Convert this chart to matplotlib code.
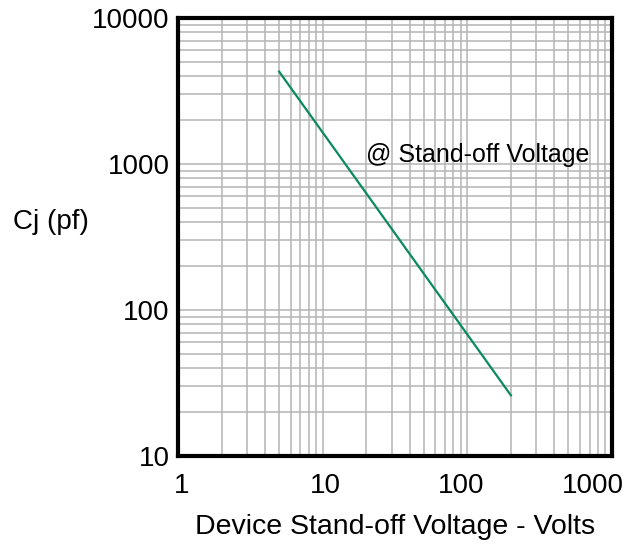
import matplotlib.pyplot as plt
import matplotlib.transforms as mtransforms
from matplotlib.ticker import LogLocator, FixedLocator, NullFormatter

plt.rcParams['font.family'] = ['Liberation Sans', 'DejaVu Sans']

# line endpoints (volts, pF)
voltage = [5, 200]
capacitance = [4300, 26]

x_ticks = [1, 10, 100, 1000]
x_tick_labels = ['1', '10', '100', '1000']
y_ticks = [10, 100, 1000, 10000]
y_tick_labels = ['10', '100', '1000', '10000']

fig = plt.figure(figsize=(6.3, 5.48), dpi=100)
ax = fig.add_axes([0.2825, 0.168, 0.689, 0.799])

ax.plot(voltage, capacitance, color='#0b8a60', lw=1.6, zorder=3)

ax.set_xscale('log')
ax.set_yscale('log')
ax.set_xlim(1, 1000)
ax.set_ylim(10, 10000)

ax.xaxis.set_major_locator(FixedLocator(x_ticks))
ax.yaxis.set_major_locator(FixedLocator(y_ticks))
ax.set_xticklabels(x_tick_labels)
ax.set_yticklabels(y_tick_labels)
ax.xaxis.set_minor_locator(LogLocator(base=10, subs=range(2, 10)))
ax.yaxis.set_minor_locator(LogLocator(base=10, subs=range(2, 10)))
ax.xaxis.set_minor_formatter(NullFormatter())
ax.yaxis.set_minor_formatter(NullFormatter())

ax.grid(True, which='both', color='#b4b4b4', lw=1.1, zorder=0)
ax.tick_params(which='both', length=0, labelsize=20)
ax.tick_params(axis='x', pad=12)
ax.tick_params(axis='y', pad=6)

# the x labels sit a little off their ticks in the original
shifts_px = [4, 3, -6, -19]
for lab, dx in zip(ax.get_xticklabels(), shifts_px):
    lab.set_transform(lab.get_transform() +
                      mtransforms.ScaledTranslation(dx / 100, 0, fig.dpi_scale_trans))

for s in ax.spines.values():
    s.set_linewidth(3)
    s.set_color('black')

ax.set_xlabel('Device Stand-off Voltage - Volts', fontsize=20.5, labelpad=11)
fig.text(0.02, 0.595, 'Cj (pf)', fontsize=20, ha='left', va='center')

ax.text(20, 1150, '@ Stand-off Voltage', fontsize=18, ha='left', va='center')

fig.savefig('out.png', dpi=100)
